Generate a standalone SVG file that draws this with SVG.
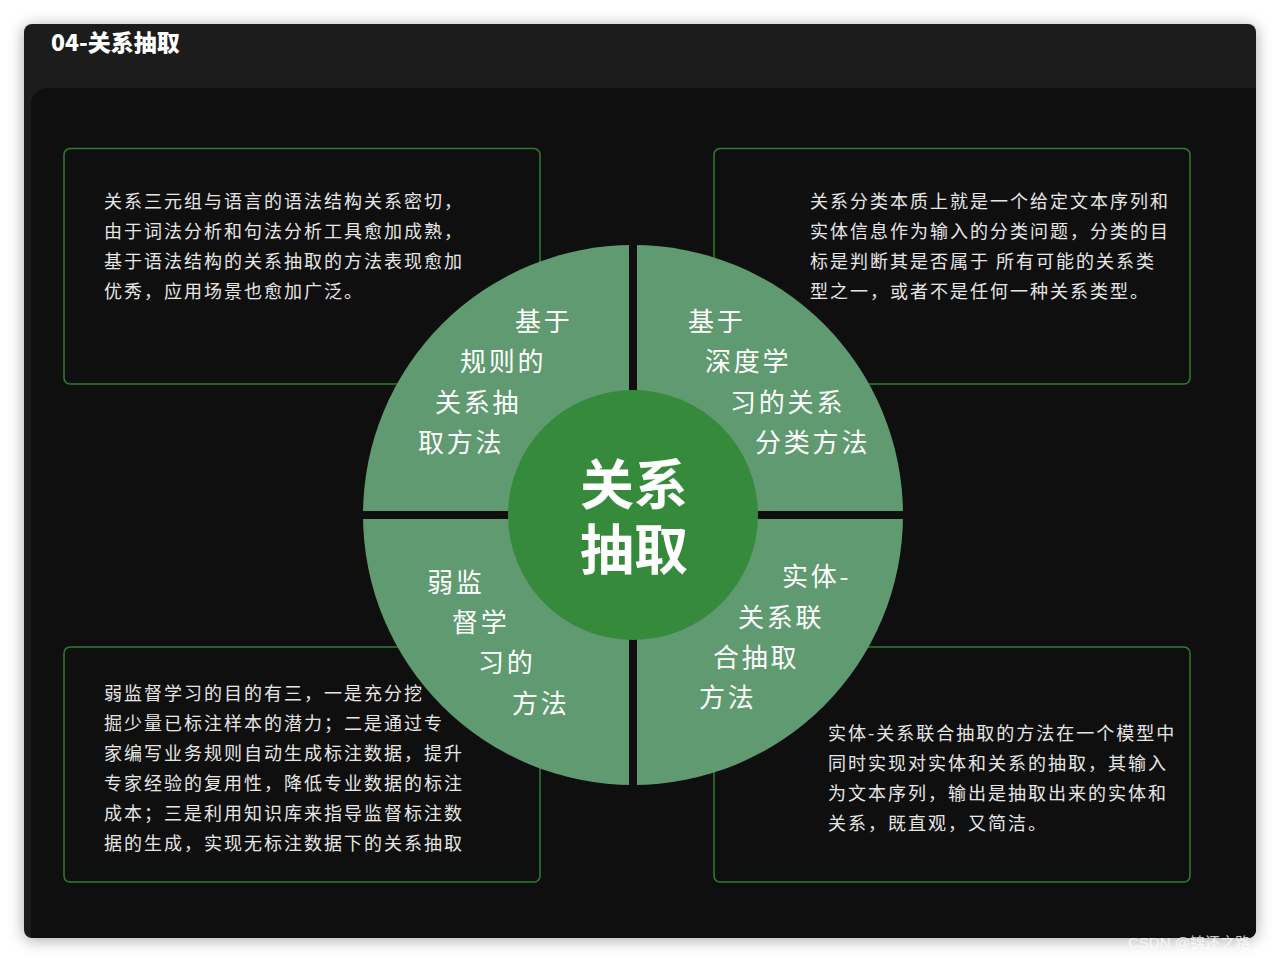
<svg xmlns="http://www.w3.org/2000/svg" width="1280" height="962" viewBox="0 0 1280 962">
<defs>
<filter id="sh" x="-5%" y="-5%" width="110%" height="110%">
<feGaussianBlur in="SourceAlpha" stdDeviation="8"/>
<feOffset dy="2"/>
<feComponentTransfer><feFuncA type="linear" slope="0.35"/></feComponentTransfer>
<feMerge><feMergeNode/><feMergeNode in="SourceGraphic"/></feMerge>
</filter>
<clipPath id="win"><rect x="24" y="24" width="1232" height="914" rx="8"/></clipPath>
<style>
.box{fill:none;stroke:#2f7d33;stroke-width:1.5}
.body{font-family:"Noto Sans CJK SC","Noto Sans",sans-serif;font-size:18px;fill:#e6e6e6;letter-spacing:2px}
.q{font-family:"Noto Sans CJK SC","Noto Sans",sans-serif;font-size:26px;fill:#ffffff;letter-spacing:2.8px}
.c{font-family:"Noto Sans CJK SC","Noto Sans",sans-serif;font-size:54px;font-weight:bold;fill:#ffffff}
.sep{stroke:#0f0f0f;stroke-width:8}
</style>
</defs>
<rect width="1280" height="962" fill="#ffffff"/>
<g id="window">
<rect x="24" y="24" width="1232" height="914" rx="8" fill="#1e1d1e" filter="url(#sh)"/>
<g clip-path="url(#win)">
<rect x="31" y="88" width="1240" height="880" rx="16" fill="#0f0f0f"/>
</g>
<text x="51" y="51" font-family="Noto Sans CJK SC,sans-serif" font-size="23" font-weight="900" fill="#ffffff">04-关系抽取</text>
</g>
<g id="box-tl">
<rect class="box" x="64" y="148.5" width="476" height="235.5" rx="6"/>
<text class="body"><tspan x="104" y="208">关系三元组与语言的语法结构关系密切，</tspan><tspan x="104" y="238">由于词法分析和句法分析工具愈加成熟，</tspan><tspan x="104" y="268">基于语法结构的关系抽取的方法表现愈加</tspan><tspan x="104" y="298">优秀，应用场景也愈加广泛。</tspan></text>
</g>
<g id="box-tr">
<rect class="box" x="714" y="148.5" width="476" height="235.5" rx="6"/>
<text class="body"><tspan x="810" y="208">关系分类本质上就是一个给定文本序列和</tspan><tspan x="810" y="238">实体信息作为输入的分类问题，分类的目</tspan><tspan x="810" y="268">标是判断其是否属于 所有可能的关系类</tspan><tspan x="810" y="298">型之一，或者不是任何一种关系类型。</tspan></text>
</g>
<g id="box-bl">
<rect class="box" x="64" y="647" width="476" height="235" rx="6"/>
<text class="body"><tspan x="104" y="700">弱监督学习的目的有三，一是充分挖</tspan><tspan x="104" y="730">掘少量已标注样本的潜力；二是通过专</tspan><tspan x="104" y="760">家编写业务规则自动生成标注数据，提升</tspan><tspan x="104" y="790">专家经验的复用性，降低专业数据的标注</tspan><tspan x="104" y="820">成本；三是利用知识库来指导监督标注数</tspan><tspan x="104" y="850">据的生成，实现无标注数据下的关系抽取</tspan></text>
</g>
<g id="box-br">
<rect class="box" x="714" y="647" width="476" height="235" rx="6"/>
<text class="body"><tspan x="828" y="740">实体-关系联合抽取的方法在一个模型中</tspan><tspan x="828" y="770">同时实现对实体和关系的抽取，其输入</tspan><tspan x="828" y="800">为文本序列，输出是抽取出来的实体和</tspan><tspan x="828" y="830">关系，既直观，又简洁。</tspan></text>
</g>
<g id="wheel">
<circle cx="633" cy="515" r="270" fill="#5f9a70"/>
<line class="sep" x1="633" y1="240" x2="633" y2="790"/>
<line class="sep" x1="358" y1="515" x2="908" y2="515"/>
</g>
<g id="q-tl">
<text class="q"><tspan x="515" y="331">基于</tspan><tspan x="460" y="371">规则的</tspan><tspan x="435" y="412">关系抽</tspan><tspan x="418" y="452">取方法</tspan></text>
</g>
<g id="q-tr">
<text class="q"><tspan x="688" y="331">基于</tspan><tspan x="705" y="371">深度学</tspan><tspan x="730" y="412">习的关系</tspan><tspan x="755" y="452">分类方法</tspan></text>
</g>
<g id="q-bl">
<text class="q"><tspan x="427" y="592">弱监</tspan><tspan x="452" y="632">督学</tspan><tspan x="478" y="672">习的</tspan><tspan x="512" y="713">方法</tspan></text>
</g>
<g id="q-br">
<text class="q"><tspan x="782" y="586">实体-</tspan><tspan x="738" y="627">关系联</tspan><tspan x="713" y="667">合抽取</tspan><tspan x="699" y="707">方法</tspan></text>
</g>
<g id="center">
<circle cx="633" cy="515" r="125" fill="#358a3b"/>
<text class="c" x="634" y="505" text-anchor="middle">关系</text>
<text class="c" x="634" y="570" text-anchor="middle">抽取</text>
</g>
<text x="1128" y="948" font-family="Liberation Sans,Noto Sans CJK SC,sans-serif" font-size="15" fill="#ffffff" fill-opacity="0.75">CSDN @锦还之路</text>
</svg>
